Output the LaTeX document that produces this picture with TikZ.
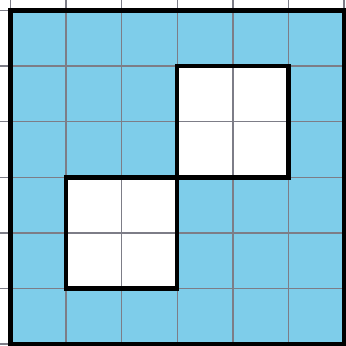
\documentclass[tikz,border=0pt]{standalone}
\definecolor{skyfill}{RGB}{126,205,234}
\definecolor{gridgray}{RGB}{125,125,135}
\tikzset{
  gridline/.style={draw=gridgray, line width=0.7pt},
  boldframe/.style={draw=black, line width=2.3pt, line join=miter},
}
\begin{document}
\begin{tikzpicture}[x=1cm,y=1cm]
\useasboundingbox (-0.189,-0.036) rectangle (6.036,6.189);
\clip (-0.189,-0.036) rectangle (6.036,6.189);
\fill[white] (-0.189,-0.036) rectangle (6.036,6.189);
\fill[skyfill] (0,0) rectangle (6,6);
\fill[white] (3,3) rectangle (5,5);
\fill[white] (1,1) rectangle (3,3);
\draw[gridline] (-1,-1) grid (7,7);
\draw[boldframe] (0,0) rectangle (6,6);
\draw[boldframe] (3,3) rectangle (5,5);
\draw[boldframe] (1,1) rectangle (3,3);
\end{tikzpicture}
\end{document}
